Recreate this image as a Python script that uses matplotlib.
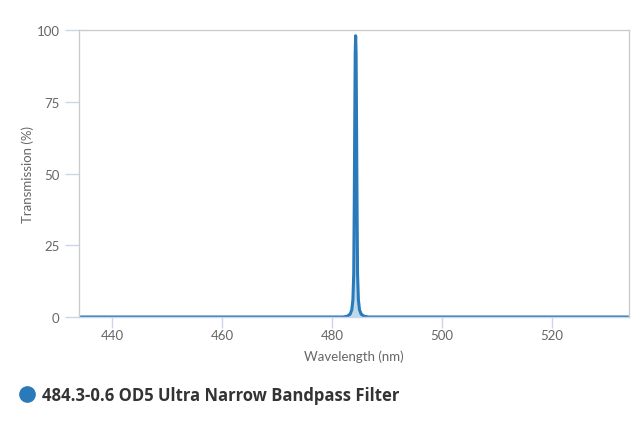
import matplotlib
matplotlib.use("Agg")
import matplotlib.pyplot as plt
from matplotlib.lines import Line2D

plt.rcParams['font.family'] = ['Lato', 'DejaVu Sans']

# Transmission curve (nm, %)
wavelength = [434.0, 482.0, 482.8, 483.3, 483.6, 483.8, 483.95, 484.05, 484.15,
              484.22, 484.3, 484.38, 484.45, 484.55, 484.65, 484.8, 485.0,
              485.3, 485.8, 486.6, 534.0]
transmission = [0.0, 0.0, 0.3, 1.0, 2.5, 6.0, 15.0, 40.0, 72.0,
                92.0, 98.0, 92.0, 72.0, 40.0, 15.0, 6.0, 2.5,
                1.0, 0.3, 0.0, 0.0]

x_ticks = [440, 460, 480, 500, 520]
y_ticks = [0, 25, 50, 75, 100]
series_name = "484.3-0.6 OD5 Ultra Narrow Bandpass Filter"

line_color = "#2a7ab9"
fill_color = "#a9cde6"
tick_color = "#666666"
axis_color = "#ccd6eb"

fig = plt.figure(figsize=(6.4, 4.27), dpi=100)
ax = fig.add_axes([79 / 640, 1 - 318 / 427, 550 / 640, 287 / 427])

ax.fill_between(wavelength, transmission, 0, color=fill_color, alpha=0.75, linewidth=0)
ax.plot(wavelength, transmission, color=line_color, linewidth=2.2, solid_joinstyle='round')

ax.set_xlim(433.9, 534.1)
ax.set_ylim(0, 100)
ax.set_xticks(x_ticks)
ax.set_yticks(y_ticks)

for side in ['left', 'top', 'right']:
    ax.spines[side].set_color("#cccccc")
    ax.spines[side].set_linewidth(1)
ax.spines['bottom'].set_color(axis_color)
ax.spines['bottom'].set_linewidth(1)

ax.tick_params(axis='x', colors=axis_color, length=8, width=1, direction='out',
               labelcolor=tick_color, labelsize=9.5, pad=1)
ax.tick_params(axis='y', colors=axis_color, length=10, width=1, direction='out',
               labelcolor=tick_color, labelsize=9.5, pad=4)

ax.set_xlabel("Wavelength (nm)", color=tick_color, fontsize=9.5, labelpad=6)
ax.set_ylabel("Transmission (%)", color=tick_color, fontsize=9.5, labelpad=2)

# Legend below the plot area
handle = Line2D([], [], marker='o', linestyle='none', markersize=11,
                markerfacecolor=line_color, markeredgecolor=line_color)
leg = fig.legend([handle], [series_name], loc='center left',
                 bbox_to_anchor=(-1 / 640, 1 - 396 / 427), frameon=False,
                 handletextpad=0.15, handlelength=1.5,
                 prop={'family': ['Open Sans', 'DejaVu Sans'], 'weight': 'bold', 'size': 12})
for t in leg.get_texts():
    t.set_color("#333333")

fig.savefig("out.png", dpi=100)
